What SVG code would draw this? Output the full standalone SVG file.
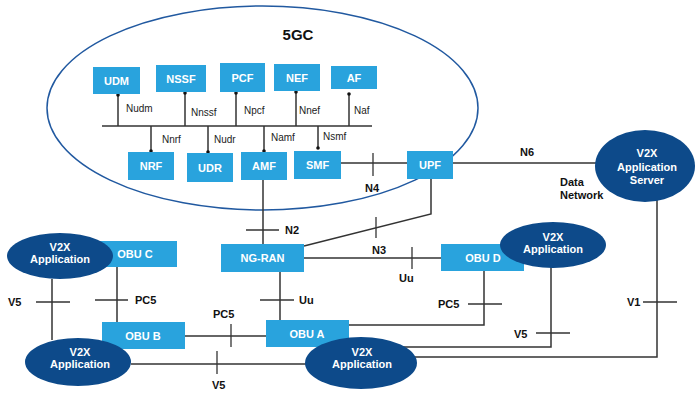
<svg xmlns="http://www.w3.org/2000/svg" width="696" height="394" viewBox="0 0 696 394">
<style>
.bx{fill:#29a3dd}
.bt{font-family:"Liberation Sans",Arial,sans-serif;font-size:11px;font-weight:bold;fill:#fff;text-anchor:middle}
.el{fill:#0d4a8a}
.ln{stroke:#333;stroke-width:1.5;fill:none}
.tk{stroke:#333;stroke-width:1.3}
.il{font-family:"Liberation Sans",Arial,sans-serif;font-size:10px;fill:#222}
.lb{font-family:"Liberation Sans",Arial,sans-serif;font-size:11px;font-weight:bold;fill:#111}
.dot{fill:#111}
</style>
<rect width="696" height="394" fill="#fff"/>
<g id="core5gc">
<ellipse cx="262.5" cy="108" rx="215.5" ry="102" fill="none" stroke="#2159a0" stroke-width="1.5"/>
<text x="298" y="40" font-family="Liberation Sans,Arial,sans-serif" font-size="15" font-weight="bold" fill="#111" text-anchor="middle">5GC</text>
</g>
<g id="connectors">
<line class="ln" x1="102" y1="126" x2="372" y2="126"/>
<line class="ln" x1="118" y1="95" x2="118" y2="126"/><circle class="dot" cx="118" cy="95" r="1.8"/>
<line class="ln" x1="185" y1="93" x2="185" y2="126"/><circle class="dot" cx="185" cy="93" r="1.8"/>
<line class="ln" x1="236" y1="93" x2="236" y2="126"/><circle class="dot" cx="236" cy="93" r="1.8"/>
<line class="ln" x1="296" y1="92" x2="296" y2="126"/><circle class="dot" cx="296" cy="92" r="1.8"/>
<line class="ln" x1="349" y1="94" x2="349" y2="126"/><circle class="dot" cx="349" cy="94" r="1.8"/>
<line class="ln" x1="151" y1="126" x2="151" y2="151"/><circle class="dot" cx="151" cy="151" r="1.8"/>
<line class="ln" x1="208" y1="126" x2="208" y2="152"/><circle class="dot" cx="208" cy="152" r="1.8"/>
<line class="ln" x1="264" y1="126" x2="264" y2="151"/><circle class="dot" cx="264" cy="151" r="1.8"/>
<line class="ln" x1="318" y1="126" x2="318" y2="148"/><circle class="dot" cx="318" cy="148" r="1.8"/>
<text class="il" x="126" y="112">Nudm</text>
<text class="il" x="191" y="116">Nnssf</text>
<text class="il" x="244" y="114">Npcf</text>
<text class="il" x="299" y="114">Nnef</text>
<text class="il" x="354" y="114">Naf</text>
<text class="il" x="162" y="143">Nnrf</text>
<text class="il" x="214" y="143">Nudr</text>
<text class="il" x="271" y="141">Namf</text>
<text class="il" x="323" y="140">Nsmf</text>
<!-- N4 -->
<line class="ln" x1="341" y1="163" x2="407" y2="163"/>
<line class="tk" x1="373" y1="153" x2="373" y2="176"/>
<text class="lb" x="365" y="192">N4</text>
<!-- N6 -->
<line class="ln" x1="453" y1="163" x2="600" y2="163"/>
<text class="lb" x="520" y="156">N6</text>
<text class="lb" x="560" y="186">Data</text>
<text class="lb" x="560" y="199">Network</text>
<!-- N2 -->
<line class="ln" x1="263" y1="180" x2="263" y2="244"/>
<line class="tk" x1="246" y1="230" x2="279" y2="230"/>
<text class="lb" x="285" y="234">N2</text>
<!-- N3 -->
<polyline class="ln" points="431,179 431,214 304,246"/>
<line class="tk" x1="376" y1="217" x2="376" y2="238"/>
<text class="lb" x="372" y="254">N3</text>
<!-- Uu NG-RAN - OBU D -->
<line class="ln" x1="304" y1="258" x2="441" y2="258"/>
<line class="tk" x1="412" y1="247" x2="412" y2="269"/>
<text class="lb" x="399" y="282">Uu</text>
<!-- Uu NG-RAN - OBU A -->
<line class="ln" x1="280" y1="272" x2="280" y2="320"/>
<line class="tk" x1="260" y1="300" x2="294" y2="300"/>
<text class="lb" x="299" y="304">Uu</text>
<!-- PC5 OBU B - OBU A -->
<line class="ln" x1="185" y1="336" x2="266" y2="336"/>
<line class="tk" x1="231" y1="324" x2="231" y2="347"/>
<text class="lb" x="213" y="318">PC5</text>
<!-- PC5 OBU C - OBU B -->
<line class="ln" x1="117" y1="267" x2="117" y2="322"/>
<line class="tk" x1="95" y1="300" x2="128" y2="300"/>
<text class="lb" x="135" y="304">PC5</text>
<!-- V5 left -->
<line class="ln" x1="52" y1="279" x2="52" y2="340"/>
<line class="tk" x1="36" y1="302" x2="70" y2="302"/>
<text class="lb" x="8" y="306">V5</text>
<!-- V5 bottom -->
<line class="ln" x1="131" y1="364" x2="310" y2="364"/>
<line class="tk" x1="217" y1="351" x2="217" y2="374"/>
<text class="lb" x="212" y="389">V5</text>
<!-- PC5 OBU A - OBU D -->
<polyline class="ln" points="349,325 484,325 484,271"/>
<line class="tk" x1="468" y1="304" x2="502" y2="304"/>
<text class="lb" x="438" y="308">PC5</text>
<!-- V5 right -->
<polyline class="ln" points="361,347 551,347 551,250"/>
<line class="tk" x1="536" y1="333" x2="570" y2="333"/>
<text class="lb" x="514" y="338">V5</text>
<!-- V1 -->
<polyline class="ln" points="361,357 657,357 657,190"/>
<line class="tk" x1="643" y1="302" x2="677" y2="302"/>
<text class="lb" x="627" y="306">V1</text>
</g>
<g id="UDM"><rect class="bx" x="93" y="67" width="47" height="27"/><text class="bt" x="116.5" y="85">UDM</text></g>
<g id="NSSF"><rect class="bx" x="156" y="65" width="50" height="27"/><text class="bt" x="181" y="83">NSSF</text></g>
<g id="PCF"><rect class="bx" x="220" y="63" width="45" height="29"/><text class="bt" x="242.5" y="82">PCF</text></g>
<g id="NEF"><rect class="bx" x="274" y="64" width="46" height="27"/><text class="bt" x="297" y="82">NEF</text></g>
<g id="AF"><rect class="bx" x="331" y="66" width="46" height="23"/><text class="bt" x="354" y="82">AF</text></g>
<g id="NRF"><rect class="bx" x="128" y="152" width="46" height="28"/><text class="bt" x="151" y="170">NRF</text></g>
<g id="UDR"><rect class="bx" x="187" y="153" width="46" height="29"/><text class="bt" x="210" y="172">UDR</text></g>
<g id="AMF"><rect class="bx" x="241" y="152" width="46" height="28"/><text class="bt" x="264" y="170">AMF</text></g>
<g id="SMF"><rect class="bx" x="294" y="151" width="47" height="28"/><text class="bt" x="317.5" y="169">SMF</text></g>
<g id="UPF"><rect class="bx" x="407" y="151" width="46" height="28"/><text class="bt" x="430" y="169">UPF</text></g>
<g id="NG-RAN"><rect class="bx" x="221" y="244" width="83" height="28"/><text class="bt" x="262.5" y="262">NG-RAN</text></g>
<g id="OBU-C"><rect class="bx" x="100" y="241" width="77" height="26"/><text class="bt" x="135" y="258">OBU C</text></g>
<g id="OBU-B"><rect class="bx" x="102" y="322" width="83" height="27"/><text class="bt" x="143" y="340">OBU B</text></g>
<g id="OBU-A"><rect class="bx" x="266" y="320" width="83" height="27"/><text class="bt" x="307" y="338">OBU A</text></g>
<g id="OBU-D"><rect class="bx" x="441" y="244" width="83" height="27"/><text class="bt" x="483" y="262">OBU D</text></g>
<g id="AppServer"><ellipse class="el" cx="645" cy="166" rx="50" ry="36"/><text class="bt" x="647" y="157">V2X</text><text class="bt" x="647" y="171">Application</text><text class="bt" x="647" y="184">Server</text></g>
<g id="App-TopLeft"><ellipse class="el" cx="60" cy="256" rx="53" ry="23"/><text class="bt" x="60" y="251">V2X</text><text class="bt" x="60" y="263">Application</text></g>
<g id="App-BottomLeft"><ellipse class="el" cx="78" cy="362" rx="53" ry="24"/><text class="bt" x="80" y="356">V2X</text><text class="bt" x="80" y="368">Application</text></g>
<g id="App-BottomMid"><ellipse class="el" cx="361" cy="363" rx="56" ry="26"/><text class="bt" x="362" y="356">V2X</text><text class="bt" x="362" y="368">Application</text></g>
<g id="App-Right"><ellipse class="el" cx="553" cy="245" rx="53" ry="23"/><text class="bt" x="553" y="241">V2X</text><text class="bt" x="553" y="253">Application</text></g>
</svg>
